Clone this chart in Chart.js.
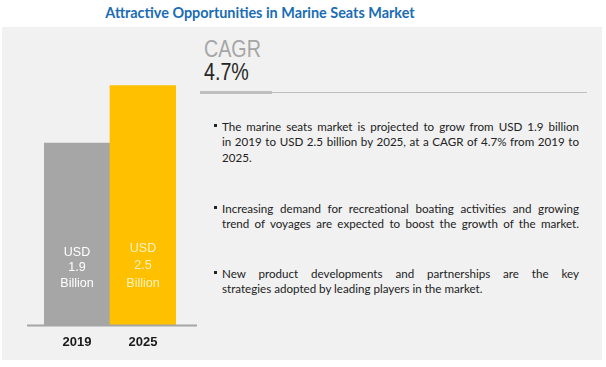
<!DOCTYPE html>
<html><head><meta charset="utf-8">
<script src="https://cdn.jsdelivr.net/npm/chart.js@4"></script>
<style>
html,body{margin:0;padding:0;background:#fff;}
body{width:606px;height:367px;position:relative;overflow:hidden;font-family:Lato,"Open Sans",sans-serif;}
#panel{position:absolute;left:2px;top:27px;width:600px;height:333px;background:#f1f1f1;}
#title{position:absolute;left:0;top:3px;width:520px;text-align:center;font-weight:bold;font-size:15px;font-family:Lato,sans-serif;color:#1a6cb4;white-space:nowrap;transform:scaleX(0.96);transform-origin:260px 0;}
#wrap{position:absolute;left:0;top:0;width:200px;height:367px;}
.narrow{font-family:"Liberation Sans",Arial,sans-serif;transform:scaleX(0.82);transform-origin:0 0;}
#cagr{position:absolute;left:204px;top:36px;font-size:24px;color:#a6a6a6;line-height:26px;}
#cagrv{position:absolute;left:204px;top:59px;font-size:24px;color:#262626;line-height:26px;}
#thick{position:absolute;left:200px;top:91px;width:72px;height:3px;background:#bfbfbf;}
#thin{position:absolute;left:272px;top:92px;width:315px;height:1px;background:#bfbfbf;}
.para{position:absolute;left:222px;width:357px;font-size:11.6px;line-height:15.3px;color:#222;font-family:Lato,sans-serif;}
.para span{display:block;}
.para span.j{text-align:justify;text-align-last:justify;}
.para::before{content:"";position:absolute;left:-8px;top:5px;width:3px;height:3px;background:#222;}
</style></head>
<body>
<div id="panel"></div>
<div id="title">Attractive Opportunities in Marine Seats Market</div>
<div id="cagr" class="narrow">CAGR</div>
<div id="cagrv" class="narrow">4.7%</div>
<div id="thick"></div><div id="thin"></div>
<div class="para" style="top:119px"><span class="j">The marine seats market is projected to grow from USD 1.9 billion</span><span class="j">in 2019 to USD 2.5 billion by 2025, at a CAGR of 4.7% from 2019 to</span><span>2025.</span></div>
<div class="para" style="top:201px"><span class="j">Increasing demand for recreational boating activities and growing</span><span class="j">trend of voyages are expected to boost the growth of the market.</span></div>
<div class="para" style="top:266px"><span class="j">New product developments and partnerships are the key</span><span>strategies adopted by leading players in the market.</span></div>
<div id="wrap"><canvas id="c" width="200" height="367"></canvas></div>
<script>
const categories = ['2019', '2025'];
const values = [1.9, 2.5];
const valueUnitPrefix = 'USD';
const valueUnitSuffix = 'Billion';

const barText = {
  id: 'barText',
  afterDatasetsDraw(chart) {
    const ctx = chart.ctx;
    const meta = chart.getDatasetMeta(0);
    const base = chart.scales.y.getPixelForValue(0);
    const cols = ['#ffffff', '#fff3c4'];
    const offs = [[73, 58, 42], [77, 60, 42]];
    meta.data.forEach((bar, i) => {
      const lines = [valueUnitPrefix, values[i].toFixed(1), valueUnitSuffix];
      ctx.save();
      ctx.font = '12.5px "Liberation Sans", Arial, sans-serif';
      ctx.fillStyle = cols[i];
      ctx.textAlign = 'center';
      ctx.textBaseline = 'middle';
      lines.forEach((t, k) => ctx.fillText(t, bar.x, base - offs[i][k]));
      ctx.restore();
    });
    const a = chart.chartArea;
    ctx.save();
    ctx.strokeStyle = '#a6a6a6';
    ctx.lineWidth = 2;
    ctx.beginPath();
    ctx.moveTo(a.left - 17, base);
    ctx.lineTo(a.right + 21, base);
    ctx.stroke();
    ctx.restore();
  }
};

new Chart(document.getElementById('c'), {
  type: 'bar',
  data: {
    labels: categories,
    datasets: [{
      data: values,
      backgroundColor: ['#a6a6a6', '#ffc000'],
      borderWidth: 0,
      barPercentage: 1,
      categoryPercentage: 1
    }]
  },
  options: {
    responsive: false,
    animation: false,
    devicePixelRatio: 1,
    layout: { padding: { left: 44, right: 24, top: 37.6, bottom: 8 } },
    plugins: { legend: { display: false }, tooltip: { enabled: false }, title: { display: false } },
    scales: {
      y: { display: false, min: 0, max: 3 },
      x: {
        grid: { display: false, drawTicks: false },
        border: { display: false },
        ticks: { color: '#1a1a1a', padding: 9, font: { family: '"Liberation Sans", Arial, sans-serif', size: 13, weight: 'bold' } }
      }
    }
  },
  plugins: [barText]
});
</script>
</body></html>
